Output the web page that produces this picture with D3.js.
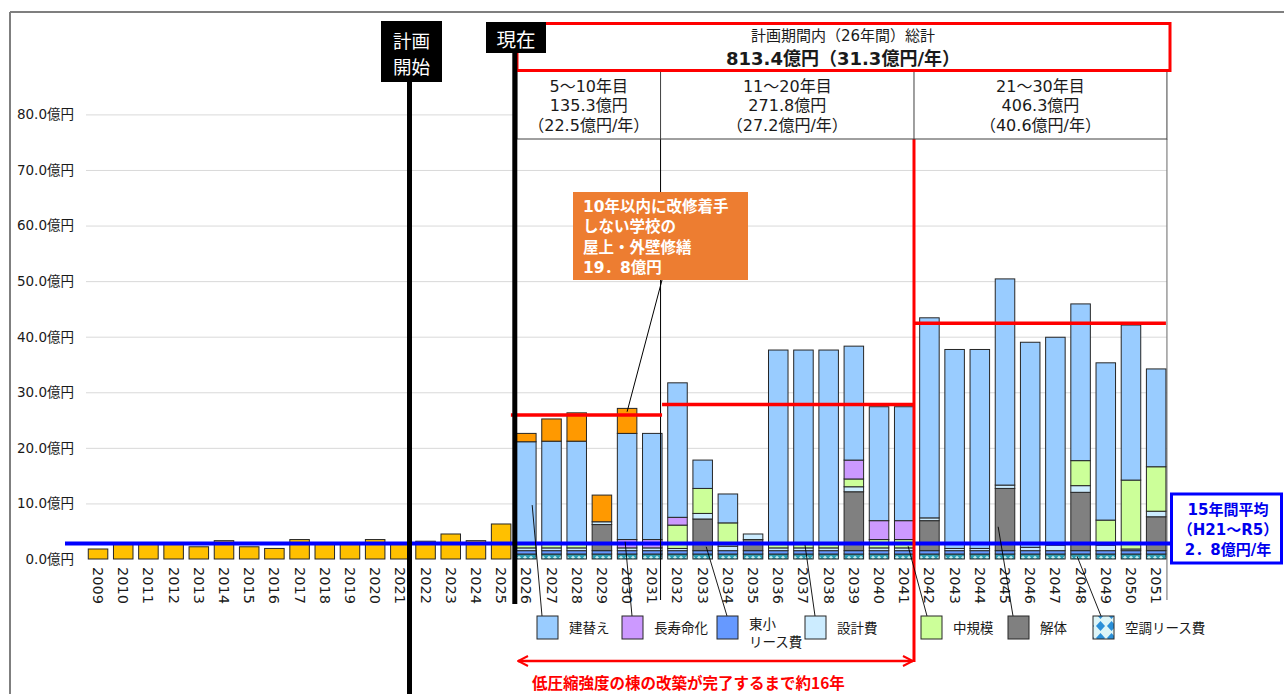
<!DOCTYPE html>
<html>
<head>
<meta charset="utf-8">
<script src="https://cdn.jsdelivr.net/npm/d3@7"></script>
<style>
body { margin: 0; background: #fff; }
text { font-family: "DejaVu Sans", "Noto Sans CJK JP", sans-serif; }
.jp { font-family: "Noto Sans CJK JP", sans-serif; }
</style>
</head>
<body>
<div id="chart"></div>
<script>
// ---- data (億円) ----
const years = ["2009","2010","2011","2012","2013","2014","2015","2016","2017","2018","2019","2020","2021",
  "2022","2023","2024","2025","2026","2027","2028","2029","2030","2031","2032","2033","2034","2035",
  "2036","2037","2038","2039","2040","2041","2042","2043","2044","2045","2046","2047","2048","2049","2050","2051"];

const pastYears = years.slice(0, 17);
const pastValues = [1.8, 2.8, 2.8, 2.8, 2.2, 3.3, 2.2, 1.9, 3.5, 2.8, 2.8, 3.5, 2.7, 3.2, 4.5, 3.3, 6.3];

const futureYears = years.slice(17);
const kuchoLease = [0.9,0.9,0.9,0.9,0.9,0.9,0.9,0.9,0.9,0.9,0.9,0.9,0.9,0.9,0.9,0.9,0.9,0.9,0.9,0.9,0.9,0.9,0.9,0.9,0.9,0.9];
const toshouLease = [0.6,0.6,0.6,0.6,0.6,0.6,0.6,0.6,0.6,0.6,0.6,0.6,0.6,0.6,0.6,0.6,0.6,0.6,0.6,0.6,0.6,0.6,0.6,0.6,0.6,0.6];
const kaitai = [0,0,0,4.7,0,0,0,5.7,0,2.0,0,0,0,10.6,0,0,5.4,0,0,11.2,0,0,10.5,0,0,6.1];
const sekkei = [0.5,0.5,0.5,0.5,0.5,0.5,0.4,1.0,0.8,1.0,0.5,0.5,0.5,0.9,0.5,0.5,0.5,0.4,0.4,0.6,0.6,1.0,1.2,1.0,0.3,1.0];
const chuukibo = [0.7,0.7,0.7,0,0,0,4.2,4.5,4.2,0,0.6,0.6,0.6,1.4,1.5,1.5,0,0,0,0,0,0,4.5,4.5,12.4,8.0];
const choujumyou = [0,0,0,0,1.5,1.5,1.4,0,0,0,0,0,0,3.4,3.4,3.4,0,0,0,0,0,0,0,0,0,0];
const tatekae = [18.4,18.5,18.5,0,19.1,19.1,24.2,5.1,5.2,0,35.0,35.0,35.0,20.5,20.5,20.5,36.0,35.8,35.8,37.1,36.9,37.4,28.2,28.3,27.9,17.6];
const gaiheki = [1.5,4.0,5.1,4.8,4.5,0,0,0,0,0,0,0,0,0,0,0,0,0,0,0,0,0,0,0,0,0];

const pastAverage = 2.8;
const periodLines = [
  { from: "2026", to: "2031", value: 25.9 },
  { from: "2032", to: "2041", value: 27.8 },
  { from: "2042", to: "2051", value: 42.4 }
];
const periods = [
  { lines: ["5～10年目", "135.3億円", "（22.5億円/年）"] },
  { lines: ["11～20年目", "271.8億円", "（27.2億円/年）"] },
  { lines: ["21～30年目", "406.3億円", "（40.6億円/年）"] }
];
const yTicks = [0, 10, 20, 30, 40, 50, 60, 70, 80];

const keys = ["kucho", "toshou", "kaitai", "sekkei", "chuukibo", "choujumyou", "tatekae", "gaiheki"];
const colors = {
  kucho: "url(#kuchoBar)", toshou: "#6699FF", kaitai: "#808080", sekkei: "#CCECFF",
  chuukibo: "#CCFF99", choujumyou: "#CC99FF", tatekae: "#99CCFF", gaiheki: "#FF9900"
};
const legendItems = [
  { key: "tatekae", label: ["建替え"] },
  { key: "choujumyou", label: ["長寿命化"] },
  { key: "toshou", label: ["東小", "リース費"] },
  { key: "sekkei", label: ["設計費"] },
  { key: "chuukibo", label: ["中規模"] },
  { key: "kaitai", label: ["解体"] },
  { key: "kucho", label: ["空調リース費"] }
];
const legendX = [537, 622, 717, 805, 921, 1008, 1093];

// leader lines: bar point -> legend swatch
const leaders = [
  { year: "2026", v: 9.7, fx: 0.8, item: 0, dx: 5 },
  { year: "2030", v: 3.1, fx: 0.4, item: 1, dx: 10 },
  { year: "2033", v: 2.2, fx: 0.68, item: 2, dx: 10 },
  { year: "2037", v: 2.5, fx: 0.58, item: 3, dx: 10 },
  { year: "2041", v: 2.3, fx: 0.7, item: 4, dx: 6 },
  { year: "2045", v: 5.8, fx: 0.15, item: 5, dx: 5 },
  { year: "2048", v: 0.5, fx: 0.32, item: 6, dx: 8 }
];

const table = futureYears.map((yr, i) => ({
  year: yr, kucho: kuchoLease[i], toshou: toshouLease[i], kaitai: kaitai[i], sekkei: sekkei[i],
  chuukibo: chuukibo[i], choujumyou: choujumyou[i], tatekae: tatekae[i], gaiheki: gaiheki[i]
}));

// ---- chart ----
const svg = d3.select("#chart").append("svg").attr("width", 1284).attr("height", 694);
const defs = svg.append("defs");

const pBar = defs.append("pattern").attr("id", "kuchoBar").attr("patternUnits", "userSpaceOnUse")
  .attr("width", 6).attr("height", 5);
pBar.append("rect").attr("width", 6).attr("height", 5).attr("fill", "#2C9DB3");
pBar.append("path").attr("d", "M3,0.8 L5,2.5 L3,4.2 L1,2.5Z").attr("fill", "#BFEFF2");

const pLeg = defs.append("pattern").attr("id", "kuchoLeg").attr("patternUnits", "userSpaceOnUse")
  .attr("width", 11).attr("height", 12).attr("x", legendX[6] - 2).attr("y", 616);
pLeg.append("rect").attr("width", 11).attr("height", 12).attr("fill", "#DDF5F8");
pLeg.append("path").attr("d", "M5.5,1 L10,6 L5.5,11 L1,6Z").attr("fill", "#2A8FD8");

defs.append("marker").attr("id", "arrow").attr("viewBox", "0 0 10 10")
  .attr("refX", 9).attr("refY", 5).attr("markerWidth", 5).attr("markerHeight", 5)
  .attr("orient", "auto-start-reverse").attr("markerUnits", "strokeWidth")
  .append("path").attr("d", "M1,1 L9,5 L1,9").attr("fill", "none").attr("stroke", "#FF0000").attr("stroke-width", 1.6);

const x = d3.scaleBand().domain(years).range([85.5, 1168.7]).paddingInner(0.225).paddingOuter(0.11);
const y = d3.scaleLinear().domain([0, 80]).range([559, 114.4]);
const bw = x.bandwidth();
const gap = x.step() - bw;

// outer frame
svg.append("line").attr("x1", 10).attr("x2", 1284).attr("y1", 12).attr("y2", 12)
  .attr("stroke", "#7F7F7F").attr("stroke-width", 2);
svg.append("line").attr("x1", 10).attr("x2", 10).attr("y1", 12).attr("y2", 694)
  .attr("stroke", "#7F7F7F").attr("stroke-width", 2);

// y axis + grid
const plotRight = x("2051") + bw + 1;
const yAxis = svg.append("g").attr("transform", "translate(86,0)")
  .call(d3.axisLeft(y).tickValues(yTicks).tickSize(-(plotRight - 86)).tickPadding(12)
    .tickFormat(d => d.toFixed(1) + "億円"));
yAxis.select(".domain").remove();
yAxis.selectAll(".tick line").attr("stroke", "#D9D9D9").attr("stroke-width", 1)
  .attr("opacity", d => d === 0 ? 0 : 1);
yAxis.selectAll(".tick text").attr("font-size", 13.5).attr("fill", "#1a1a1a")
  .style("font-family", "\"DejaVu Sans\", \"Noto Sans CJK JP\", sans-serif");

// plot right border
svg.append("line").attr("x1", plotRight).attr("x2", plotRight).attr("y1", 139).attr("y2", 600)
  .attr("stroke", "#808080").attr("stroke-width", 1.2);

// past bars
svg.append("g").selectAll("rect").data(pastYears.map((yr, i) => ({ year: yr, v: pastValues[i] })))
  .join("rect")
  .attr("x", d => x(d.year)).attr("width", bw)
  .attr("y", d => y(d.v)).attr("height", d => y(0) - y(d.v))
  .attr("fill", "#FFC000").attr("stroke", "#262626").attr("stroke-width", 1);

// future stacked bars
const series = d3.stack().keys(keys)(table);
svg.append("g").selectAll("g").data(series).join("g")
  .attr("fill", d => colors[d.key])
  .selectAll("rect").data(d => d.filter(s => s[1] - s[0] > 0)).join("rect")
  .attr("x", d => x(d.data.year)).attr("width", bw)
  .attr("y", d => y(d[1])).attr("height", d => y(d[0]) - y(d[1]))
  .attr("stroke", "#262626").attr("stroke-width", 1);

// x labels
svg.append("g").selectAll("text").data(years).join("text")
  .attr("transform", d => `translate(${x(d) + bw / 2},567) rotate(90)`)
  .attr("dominant-baseline", "central").attr("font-size", 14.5).attr("fill", "#1a1a1a")
  .text(d => d);

// past average (blue)
svg.append("line").attr("x1", 65).attr("x2", 1172).attr("y1", y(pastAverage)).attr("y2", y(pastAverage))
  .attr("stroke", "#0000FF").attr("stroke-width", 4);

// table divider inside plot
const div1 = x("2031") + bw - 1.5;
const div2 = x("2041") + bw;
svg.append("line").attr("x1", div1).attr("x2", div1).attr("y1", 139).attr("y2", 600)
  .attr("stroke", "#000").attr("stroke-width", 1);

// period average lines (red)
svg.append("g").selectAll("line").data(periodLines).join("line")
  .attr("x1", d => x(d.from) - gap).attr("x2", d => x(d.to) + bw)
  .attr("y1", d => y(d.value)).attr("y2", d => y(d.value))
  .attr("stroke", "#FF0000").attr("stroke-width", 3.5);

// red vertical + arrow
svg.append("line").attr("x1", div2).attr("x2", div2).attr("y1", 139).attr("y2", 662)
  .attr("stroke", "#FF0000").attr("stroke-width", 3);
svg.append("line").attr("x1", 518).attr("x2", div2 - 1).attr("y1", 661).attr("y2", 661)
  .attr("stroke", "#FF0000").attr("stroke-width", 2.5)
  .attr("marker-start", "url(#arrow)").attr("marker-end", "url(#arrow)");
svg.append("text").attr("class", "jp").attr("x", 532).attr("y", 682).attr("dominant-baseline", "central")
  .attr("font-size", 15.5).attr("font-weight", "bold").attr("fill", "#FF0000")
  .text("低圧縮強度の棟の改築が完了するまで約16年");

// header table
const tLeft = 517, tRight = plotRight;
svg.append("rect").attr("x", tLeft).attr("y", 71).attr("width", tRight - tLeft).attr("height", 68)
  .attr("fill", "#fff").attr("stroke", "#404040").attr("stroke-width", 1);
[div1, div2].forEach(xx => svg.append("line").attr("x1", xx).attr("x2", xx).attr("y1", 71).attr("y2", 139)
  .attr("stroke", "#404040").attr("stroke-width", 1));
const cellEdges = [tLeft, div1, div2, tRight];
periods.forEach((p, i) => {
  const cx = (cellEdges[i] + cellEdges[i + 1]) / 2;
  p.lines.forEach((ln, j) => {
    svg.append("text").attr("x", cx).attr("y", 86 + j * 19.5).attr("text-anchor", "middle")
      .attr("dominant-baseline", "central").attr("font-size", 16).attr("fill", "#1a1a1a").text(ln);
  });
});

// total box
svg.append("rect").attr("x", tLeft).attr("y", 23.5).attr("width", 1170 - tLeft).attr("height", 47)
  .attr("fill", "#fff").attr("stroke", "#FF0000").attr("stroke-width", 3);
svg.append("text").attr("x", 843).attr("y", 36).attr("text-anchor", "middle").attr("dominant-baseline", "central")
  .attr("font-size", 15).attr("fill", "#1a1a1a").text("計画期間内（26年間）総計");
svg.append("text").attr("x", 843).attr("y", 58).attr("text-anchor", "middle").attr("dominant-baseline", "central")
  .attr("font-size", 18).attr("font-weight", "bold").attr("fill", "#1a1a1a").text("813.4億円（31.3億円/年）");

// black markers: 計画開始 / 現在
svg.append("line").attr("x1", 409.5).attr("x2", 409.5).attr("y1", 80).attr("y2", 694)
  .attr("stroke", "#000").attr("stroke-width", 5);
svg.append("rect").attr("x", 381).attr("y", 21).attr("width", 61).attr("height", 61).attr("fill", "#000");
svg.append("text").attr("class", "jp").attr("x", 411.5).attr("y", 40).attr("text-anchor", "middle")
  .attr("dominant-baseline", "central").attr("font-size", 18.5).attr("fill", "#fff").text("計画");
svg.append("text").attr("class", "jp").attr("x", 411.5).attr("y", 66).attr("text-anchor", "middle")
  .attr("dominant-baseline", "central").attr("font-size", 18.5).attr("fill", "#fff").text("開始");

svg.append("line").attr("x1", 514.8).attr("x2", 514.8).attr("y1", 50).attr("y2", 604)
  .attr("stroke", "#000").attr("stroke-width", 5);
svg.append("rect").attr("x", 486).attr("y", 22).attr("width", 60).attr("height", 31).attr("fill", "#000");
svg.append("text").attr("class", "jp").attr("x", 516).attr("y", 38).attr("text-anchor", "middle")
  .attr("dominant-baseline", "central").attr("font-size", 19.5).attr("fill", "#fff").text("現在");

// orange annotation
svg.append("line").attr("x1", 662).attr("y1", 280)
  .attr("x2", x("2030") + 0.5 * bw).attr("y2", y(26.5)).attr("stroke", "#000").attr("stroke-width", 1);
svg.append("rect").attr("x", 573).attr("y", 192).attr("width", 175).attr("height", 88).attr("fill", "#ED7D31");
["10年以内に改修着手", "しない学校の", "屋上・外壁修繕", "19．8億円"].forEach((ln, j) => {
  svg.append("text").attr("x", 583).attr("y", 207 + j * 20.3).attr("dominant-baseline", "central")
    .attr("font-size", 15.5).attr("font-weight", "bold").attr("fill", "#fff").text(ln);
});

// blue average box
svg.append("rect").attr("x", 1171.5).attr("y", 494).attr("width", 110).attr("height", 69)
  .attr("fill", "#fff").attr("stroke", "#0000FF").attr("stroke-width", 3);
["15年間平均", "（H21～R5）", "2．8億円/年"].forEach((ln, j) => {
  svg.append("text").attr("x", 1228).attr("y", 510 + j * 20).attr("text-anchor", "middle")
    .attr("dominant-baseline", "central").attr("font-size", 15).attr("font-weight", "bold")
    .attr("fill", "#0000EE").text(ln);
});

// legend leaders
svg.append("g").selectAll("line").data(leaders).join("line")
  .attr("x1", d => x(d.year) + d.fx * bw).attr("y1", d => y(d.v))
  .attr("x2", d => legendX[d.item] + d.dx).attr("y2", 616)
  .attr("stroke", "#000").attr("stroke-width", 0.9);

// legend
const lg = svg.append("g").selectAll("g").data(legendItems).join("g")
  .attr("transform", (d, i) => `translate(${legendX[i]},616)`);
lg.append("rect").attr("width", 21).attr("height", 23)
  .attr("fill", d => d.key === "kucho" ? "url(#kuchoLeg)" : colors[d.key])
  .attr("stroke", "#262626").attr("stroke-width", 1);
lg.each(function (d) {
  const g = d3.select(this);
  d.label.forEach((ln, j) => {
    g.append("text").attr("x", 32).attr("y", (d.label.length > 1 ? 8 : 12) + j * 18)
      .attr("dominant-baseline", "central").attr("font-size", 13.5).attr("fill", "#1a1a1a").text(ln);
  });
});
</script>
</body>
</html>
